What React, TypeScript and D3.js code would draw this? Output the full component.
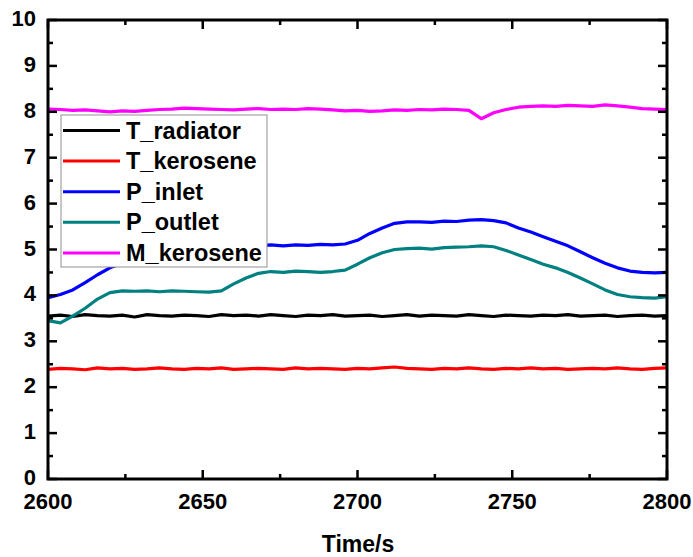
import React, { useEffect, useRef } from 'react';
import * as d3 from 'd3';

// time axis, sampled every 4 s
const times = [
  2600, 2604, 2608, 2612, 2616, 2620, 2624, 2628, 2632, 2636,
  2640, 2644, 2648, 2652, 2656, 2660, 2664, 2668, 2672, 2676,
  2680, 2684, 2688, 2692, 2696, 2700, 2704, 2708, 2712, 2716,
  2720, 2724, 2728, 2732, 2736, 2740, 2744, 2748, 2752, 2756,
  2760, 2764, 2768, 2772, 2776, 2780, 2784, 2788, 2792, 2796, 2800
];

const tRadiator = [
  3.55, 3.57, 3.54, 3.58, 3.56, 3.55, 3.57, 3.53, 3.58, 3.56,
  3.55, 3.57, 3.56, 3.54, 3.58, 3.56, 3.57, 3.55, 3.58, 3.56,
  3.54, 3.57, 3.56, 3.58, 3.55, 3.56, 3.57, 3.54, 3.56, 3.58,
  3.55, 3.57, 3.56, 3.55, 3.58, 3.56, 3.54, 3.57, 3.56, 3.55,
  3.57, 3.56, 3.58, 3.55, 3.56, 3.57, 3.54, 3.56, 3.57, 3.55, 3.56
];

const tKerosene = [
  2.39, 2.41, 2.40, 2.38, 2.42, 2.40, 2.41, 2.39, 2.40, 2.42,
  2.40, 2.39, 2.41, 2.40, 2.42, 2.39, 2.40, 2.41, 2.40, 2.39,
  2.42, 2.40, 2.41, 2.40, 2.39, 2.41, 2.40, 2.42, 2.44, 2.41,
  2.40, 2.39, 2.41, 2.40, 2.42, 2.40, 2.39, 2.41, 2.40, 2.42,
  2.40, 2.41, 2.39, 2.40, 2.41, 2.40, 2.42, 2.40, 2.39, 2.41, 2.42
];

const pInlet = [
  3.95, 4.02, 4.12, 4.28, 4.45, 4.60, 4.70, 4.72, 4.70, 4.72,
  4.70, 4.73, 4.72, 4.75, 4.80, 4.92, 5.02, 5.08, 5.10, 5.08,
  5.10, 5.09, 5.11, 5.10, 5.12, 5.20, 5.35, 5.47, 5.57, 5.60,
  5.60, 5.59, 5.62, 5.61, 5.64, 5.65, 5.63, 5.58, 5.47, 5.38,
  5.28, 5.18, 5.08, 4.95, 4.82, 4.70, 4.60, 4.53, 4.50, 4.49, 4.50
];

const pOutlet = [
  3.45, 3.40, 3.55, 3.72, 3.92, 4.06, 4.10, 4.09, 4.10, 4.08,
  4.10, 4.09, 4.08, 4.07, 4.10, 4.25, 4.38, 4.48, 4.52, 4.50,
  4.53, 4.52, 4.50, 4.52, 4.55, 4.68, 4.82, 4.93, 5.00, 5.02,
  5.03, 5.01, 5.04, 5.05, 5.06, 5.08, 5.06, 4.98, 4.88, 4.78,
  4.68, 4.60, 4.50, 4.38, 4.25, 4.12, 4.02, 3.97, 3.95, 3.94, 3.97
];

const mKerosene = [
  8.06, 8.05, 8.03, 8.04, 8.02, 8.00, 8.02, 8.01, 8.03, 8.05,
  8.06, 8.08, 8.07, 8.06, 8.05, 8.04, 8.06, 8.07, 8.05, 8.06,
  8.05, 8.07, 8.06, 8.04, 8.02, 8.03, 8.01, 8.02, 8.04, 8.03,
  8.05, 8.04, 8.06, 8.05, 8.03, 7.85, 7.98, 8.05, 8.10, 8.12,
  8.13, 8.12, 8.14, 8.13, 8.12, 8.15, 8.13, 8.10, 8.07, 8.06, 8.05
];

const seriesNames = ['T_radiator', 'T_kerosene', 'P_inlet', 'P_outlet', 'M_kerosene'];
const seriesColors = ['#000000', '#ff0000', '#0000ff', '#008080', '#ff00ff'];
const seriesValues = [tRadiator, tKerosene, pInlet, pOutlet, mKerosene];

const xTicks = [2600, 2650, 2700, 2750, 2800];
const yTicks = [0, 1, 2, 3, 4, 5, 6, 7, 8, 9, 10];

const W = 693;
const H = 557;
const FONT = '"Liberation Sans", Arial, sans-serif';

export default function App() {
  const ref = useRef<SVGSVGElement>(null);

  useEffect(() => {
    const svg = d3.select(ref.current);
    svg.selectAll('*').remove();

    const left = 48, right = 667, top = 20, bottom = 479;

    const x = d3.scaleLinear().domain([2600, 2800]).range([left, right]);
    const y = d3.scaleLinear().domain([0, 10]).range([bottom, top]);

    const line = d3.line<number>()
      .x((d, i) => x(times[i]))
      .y(d => y(d));

    // data lines
    seriesValues.forEach((vals, k) => {
      svg.append('path')
        .datum(vals)
        .attr('d', line)
        .attr('fill', 'none')
        .attr('stroke', seriesColors[k])
        .attr('stroke-width', 3.2)
        .attr('stroke-linejoin', 'round');
    });

    // legend
    const lg = svg.append('g');
    lg.append('rect')
      .attr('x', 61).attr('y', 115)
      .attr('width', 206).attr('height', 152)
      .attr('fill', '#fff')
      .attr('stroke', '#909090')
      .attr('stroke-width', 1);
    seriesNames.forEach((name, k) => {
      const cy = 130.5 + k * 30.6;
      lg.append('line')
        .attr('x1', 63).attr('x2', 120)
        .attr('y1', cy).attr('y2', cy)
        .attr('stroke', seriesColors[k])
        .attr('stroke-width', 3);
      lg.append('text')
        .attr('x', 126).attr('y', cy + 8)
        .attr('font-family', FONT)
        .attr('font-weight', 'bold')
        .attr('font-size', 23.5)
        .attr('fill', '#000')
        .text(name);
    });

    // frame + ticks
    const ax = svg.append('g').attr('stroke', '#000');
    const major = 9, minor = 5;
    d3.range(2600, 2801, 25).forEach(t => {
      const len = t % 50 === 0 ? major : minor;
      ax.append('line').attr('x1', x(t)).attr('x2', x(t))
        .attr('y1', bottom).attr('y2', bottom - len).attr('stroke-width', 2.5);
      ax.append('line').attr('x1', x(t)).attr('x2', x(t))
        .attr('y1', top).attr('y2', top + len).attr('stroke-width', 2.5);
    });
    d3.range(0, 10.01, 0.5).forEach(v => {
      const len = Math.abs(v - Math.round(v)) < 0.01 ? major : minor;
      ax.append('line').attr('x1', left).attr('x2', left + len)
        .attr('y1', y(v)).attr('y2', y(v)).attr('stroke-width', 2.5);
      ax.append('line').attr('x1', right).attr('x2', right - len)
        .attr('y1', y(v)).attr('y2', y(v)).attr('stroke-width', 2.5);
    });
    ax.append('rect')
      .attr('x', left).attr('y', top)
      .attr('width', right - left).attr('height', bottom - top)
      .attr('fill', 'none')
      .attr('stroke-width', 3);

    // tick labels
    svg.selectAll('.xl').data(xTicks).enter().append('text')
      .attr('x', d => x(d)).attr('y', bottom + 30)
      .attr('text-anchor', 'middle')
      .attr('font-family', FONT).attr('font-weight', 'bold').attr('font-size', 22)
      .text(d => d);
    svg.selectAll('.yl').data(yTicks).enter().append('text')
      .attr('x', left - 12).attr('y', d => y(d) + 6)
      .attr('text-anchor', 'end')
      .attr('font-family', FONT).attr('font-weight', 'bold').attr('font-size', 22)
      .text(d => d);

    svg.append('text')
      .attr('x', 358).attr('y', 552)
      .attr('text-anchor', 'middle')
      .attr('font-family', FONT).attr('font-weight', 'bold').attr('font-size', 23)
      .text('Time/s');
  }, []);

  return (
    <svg ref={ref} width={W} height={H}
      style={{ position: 'absolute', left: 0, top: 0, background: '#fff' }} />
  );
}
